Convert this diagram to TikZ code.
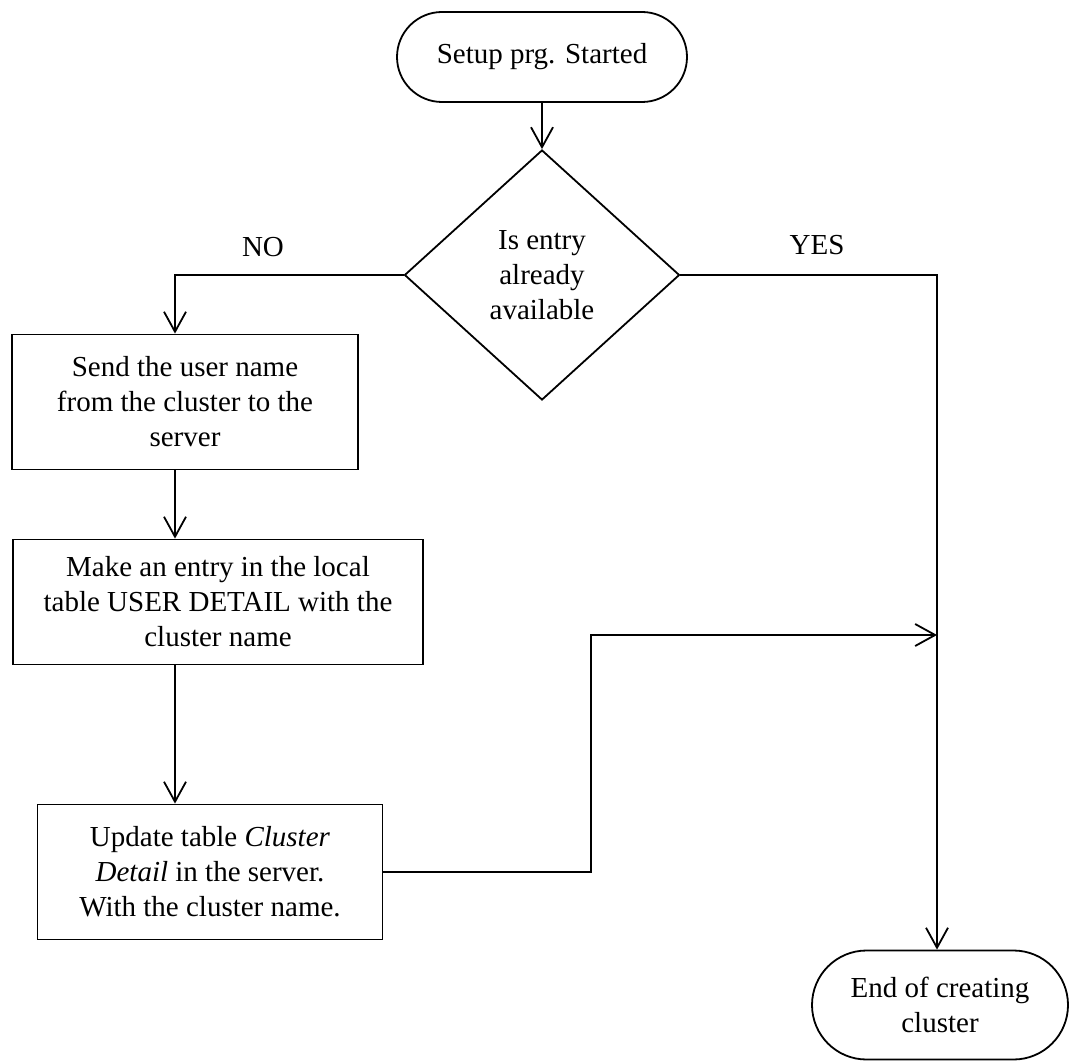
\documentclass[tikz,border=0pt]{standalone}
\usepackage{fontspec}
\setmainfont{Liberation Serif}
\usetikzlibrary{arrows.meta,shapes.geometric,shapes.misc}
\begin{document}
\begin{tikzpicture}[x=0.5pt,y=-0.5pt,
  every node/.style={font=\fontsize{14.5}{17.5}\selectfont},
  flow/.style={draw=black, line width=0.9pt, inner sep=0pt, align=center},
  term/.style={flow, rounded rectangle},
  procbox/.style={flow, rectangle},
  decide/.style={flow, diamond},
  link/.style={draw=black, line width=0.9pt},
  arr/.style={link, -{Straight Barb[length=10pt,width=11pt,line width=0.9pt]}},
]
\useasboundingbox (0,0) rectangle (1070,1064);

% flow nodes
\node[term, minimum width=145pt, minimum height=45pt] (start) at (542,57) {Setup prg. Started};
\node[decide, minimum width=137.5pt, minimum height=125pt] (dec) at (542,275) {Is entry\\already\\available};
\node[procbox, minimum width=173pt, minimum height=67.5pt] (send) at (185,402) {Send the user name\\from the cluster to the\\server};
\node[procbox, minimum width=205pt, minimum height=62.5pt] (entry) at (218,602) {Make an entry in the local\\table USER DETAIL with the\\cluster name};
\node[procbox, minimum width=172.5pt, minimum height=67.5pt] (update) at (210,872) {Update table \textit{Cluster}\\\textit{Detail} in the server.\\With the cluster name.};
\node[term, minimum width=128pt, minimum height=54.5pt] (stop) at (940,1005) {End of creating\\cluster};

% branch labels
\node (no) at (263,247) {NO};
\node (yes) at (817,245) {YES};

% routing points
\coordinate (spine) at (175,0);
\coordinate (jog) at (591,635);
\coordinate (join) at (937,635);

% connectors
\draw[arr] (start) -- (dec);
\draw[arr] (dec.west) -| (send.north -| spine);
\draw[arr] (send.south -| spine) -- (entry.north -| spine);
\draw[arr] (entry.south -| spine) -- (update.north -| spine);
\draw[arr] (update.east) -| (jog) -- (join);
\draw[arr] (dec.east) -| (stop.north -| join);
\end{tikzpicture}
\end{document}
